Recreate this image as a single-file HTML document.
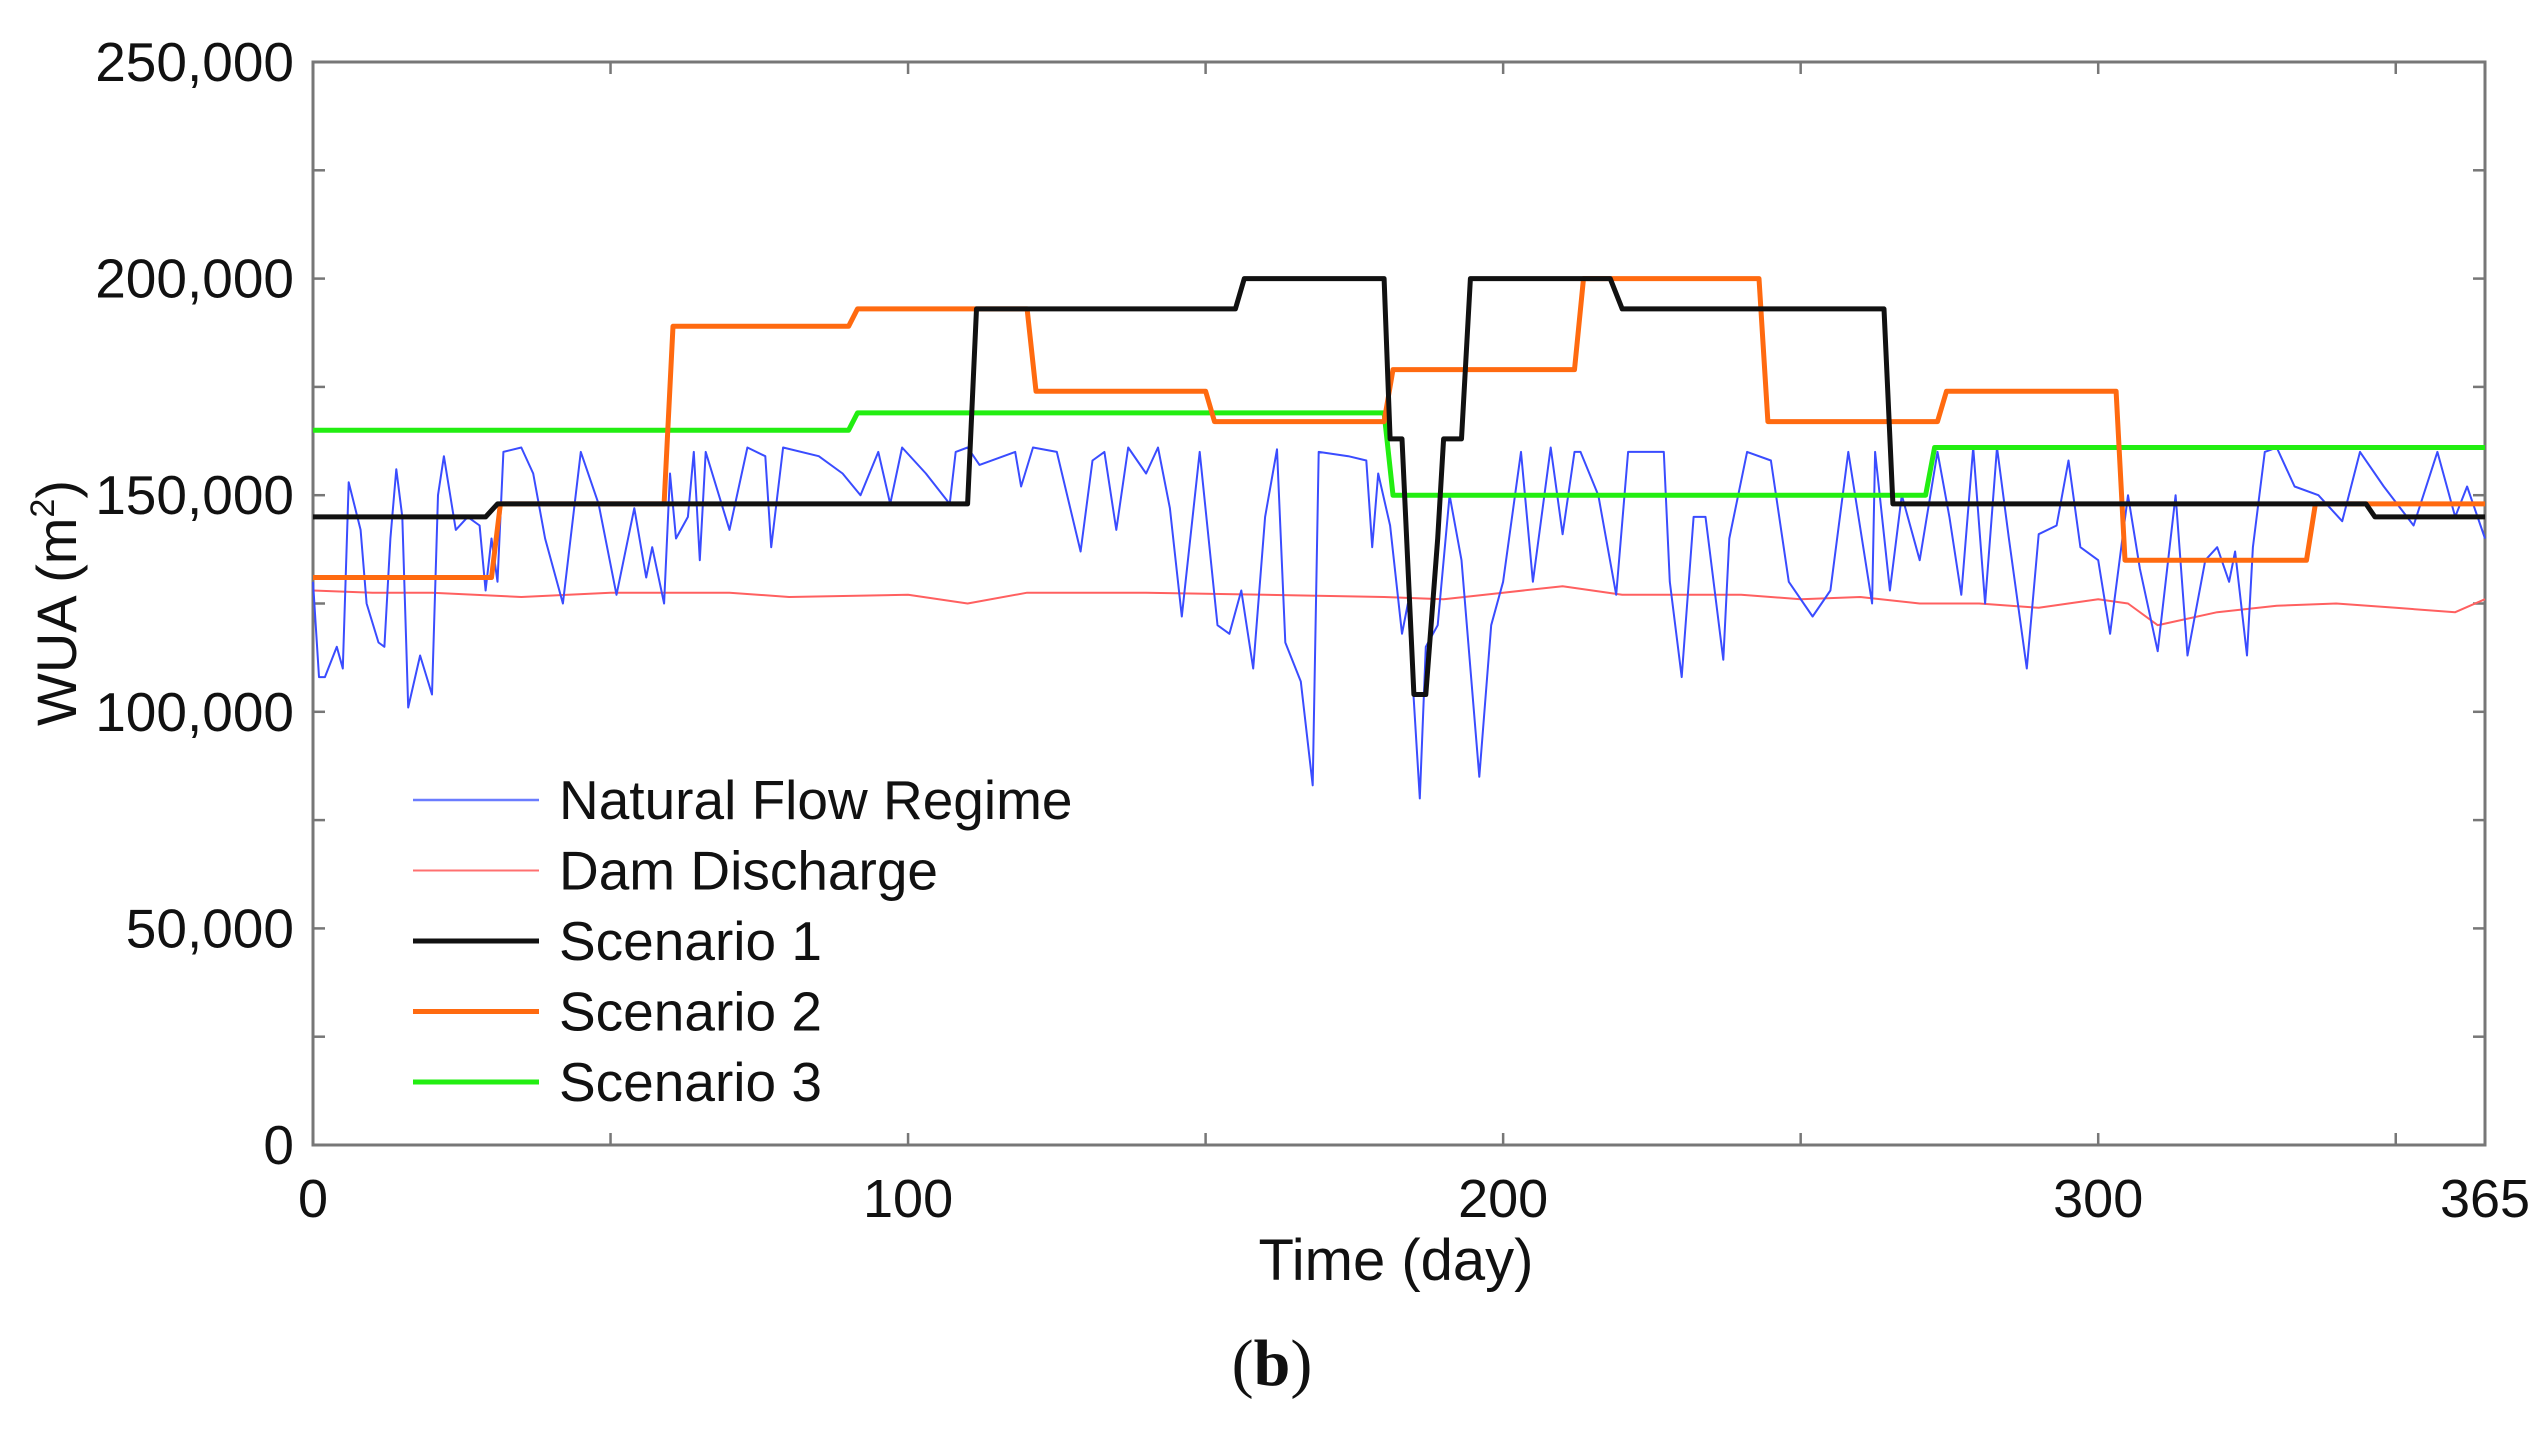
<!DOCTYPE html>
<html><head><meta charset="utf-8"><style>
html,body{margin:0;padding:0;background:#fff;}
svg{display:block;}
text{font-family:"Liberation Sans",Arial,sans-serif;fill:#111;}
</style></head><body>
<svg id="chart" width="2540" height="1436" viewBox="0 0 2540 1436" xmlns="http://www.w3.org/2000/svg"></svg>
<script>
const xTicks=[0,100,200,300,365];
const xMinor=[50,150,250,350];
const yTicks=[0,50000,100000,150000,200000,250000];
const yTickLabels=["0","50,000","100,000","150,000","200,000","250,000"];
const yMinor=[25000,75000,125000,175000,225000];

const natDays=[0,1,2,4,5,6,8,9,11,12,13,14,15,16,18,20,21,22,24,26,28,29,30,31,32,35,37,39,42,45,48,51,54,56,57,59,60,61,63,64,65,66,70,73,76,77,79,85,89,92,95,97,99,103,107,108,110,112,118,119,121,125,129,131,133,135,137,140,142,144,146,149,152,154,156,158,160,162,163.4,166,168,169,174,177,178,179,181,183,184,186,187,189,191,193,196,198,200,203,205,208,210,212,213,216,219,221,227,228,230,232,234,237,238,241,245,248,252,255,258,262,262.5,265,267,270,273,275,277,279,281,283,285,288,290,293,295,297,300,302,305,307,310,313,315,318,320,322,323,325,326,328,330,333,337,341,344,348,353,357,360,362,365];
const natVals=[130000,108000,108000,115000,110000,153000,142000,125000,116000,115000,140000,156000,145000,101000,113000,104000,150000,159000,142000,145000,143000,128000,140000,130000,160000,161000,155000,140000,125000,160000,148000,127000,147000,131000,138000,125000,155000,140000,145000,160000,135000,160000,142000,161000,159000,138000,161000,159000,155000,150000,160000,148000,161000,155000,148000,160000,161000,157000,160000,152000,161000,160000,137000,158000,160000,142000,161000,155000,161000,147000,122000,160000,120000,118000,128000,110000,145000,160600,116000,107000,83000,160000,159000,158000,138000,155000,143000,118000,125000,80000,115000,120000,150000,135000,85000,120000,130000,160000,130000,161000,141000,160000,160000,150000,127000,160000,160000,130000,108000,145000,145000,112000,140000,160000,158000,130000,122000,128000,160000,125000,160000,128000,150000,135000,160000,145000,127000,161000,125000,161000,140000,110000,141000,143000,158000,138000,135000,118000,150000,133000,114000,150000,113000,135000,138000,130000,137000,113000,138000,160000,161000,152000,150000,144000,160000,152000,143000,160000,145000,152000,140000];

const damDays=[0,10,20,35,50,70,80,100,110,120,140,160,180,190,200,210,220,240,250,260,270,280,290,300,305,310,320,330,340,350,360,365];
const damVals=[128000,127500,127500,126500,127500,127500,126500,127000,125000,127500,127500,127000,126500,126000,127500,129000,127000,127000,126000,126500,125000,125000,124000,126000,125000,120000,123000,124500,125000,124000,123000,126000];

const s1Days=[0,29,31,110,111.5,155,156.5,180,181,183,185,187,189,190,192,193,194.5,218,220,264,265.5,345,346.5,365];
const s1Vals=[145000,145000,148000,148000,193000,193000,200000,200000,163000,163000,104000,104000,140000,163000,163000,163000,200000,200000,193000,193000,148000,148000,145000,145000];

const s2Days=[0,30,31.5,59,60.5,90,91.5,120,121.5,150,151.5,180,181.5,212,213.5,243,244.5,273,274.5,303,304.5,335,336.5,365];
const s2Vals=[131000,131000,148000,148000,189000,189000,193000,193000,174000,174000,167000,167000,179000,179000,200000,200000,167000,167000,174000,174000,135000,135000,148000,148000];

const s3Days=[0,90,91.5,180,181.5,271,272.5,365];
const s3Vals=[165000,165000,169000,169000,150000,150000,161000,161000];

const L=313,R=2485,T=62,B=1145;
const xs=d=>L+(d/365)*(R-L);
const ys=v=>B-(v/250000)*(B-T);
const svg=document.getElementById('chart');
const NS='http://www.w3.org/2000/svg';
function mk(tag,attrs,parent){const e=document.createElementNS(NS,tag);for(const k in attrs)e.setAttribute(k,attrs[k]);(parent||svg).appendChild(e);return e;}

const box=mk('rect',{x:L,y:T,width:R-L,height:B-T,fill:'none',stroke:'#777','stroke-width':3});



const tg=mk('g',{stroke:'#777','stroke-width':2.5});


xTicks.concat(xMinor).forEach(d=>{const x=xs(d);mk('line',{x1:x,y1:B,x2:x,y2:B-12},tg);mk('line',{x1:x,y1:T,x2:x,y2:T+12},tg);});
yTicks.concat(yMinor).forEach(v=>{const y=ys(v);mk('line',{x1:L,y1:y,x2:L+12,y2:y},tg);mk('line',{x1:R,y1:y,x2:R-12,y2:y},tg);});

xTicks.forEach(d=>{const t=mk('text',{x:xs(d),y:1217,'text-anchor':'middle','font-size':54});t.textContent=String(d);

});
yTicks.forEach((v,i)=>{const t=mk('text',{x:294,y:ys(v)+19,'text-anchor':'end','font-size':55});t.textContent=yTickLabels[i];

});

const xt=mk('text',{x:1396,y:1280,'text-anchor':'middle','font-size':58});xt.textContent='Time (day)';


const yt=mk('text',{x:0,y:0,'text-anchor':'middle','font-size':56,transform:'translate(76,603) rotate(-90)'});
yt.innerHTML='WUA (m<tspan font-size="34" dy="-22">2</tspan><tspan dy="22">)</tspan>';


const cap=mk('text',{x:1272,y:1385,'text-anchor':'middle','font-size':66,style:'font-family:"Liberation Serif",serif'});
cap.innerHTML='(<tspan font-weight="bold">b</tspan>)';



function line(days,vals,color,w,name){
  const d=days.map((dd,i)=>(i?'L':'M')+xs(dd).toFixed(1)+','+ys(vals[i]).toFixed(1)).join(' ');
  const p=mk('path',{d:d,fill:'none',stroke:color,'stroke-width':w,'stroke-linejoin':'round'});
  
  
}
line(damDays,damVals,'#ff6060',2,'dam-discharge-line');
line(natDays,natVals,'#3a4cff',2,'natural-flow-line');
line(s3Days,s3Vals,'#22ee11',5,'scenario-3-line');
line(s2Days,s2Vals,'#ff6a10',5,'scenario-2-line');
line(s1Days,s1Vals,'#111111',5,'scenario-1-line');

const legNames=['Natural Flow Regime','Dam Discharge','Scenario 1','Scenario 2','Scenario 3'];
const legColors=['#6a7cff','#ff7070','#111111','#ff6a10','#22ee11'];
const legW=[2.5,2,5,5,5];
const lg=mk('g',{});


legNames.forEach((n,i)=>{const y=800+i*70.5;
  const ln=mk('line',{x1:413,y1:y,x2:539,y2:y,stroke:legColors[i],'stroke-width':legW[i]},lg);
  
  
  const t=mk('text',{x:559,y:y+19,'font-size':55},lg);t.textContent=n;
  
  
});
</script>
</body></html>
